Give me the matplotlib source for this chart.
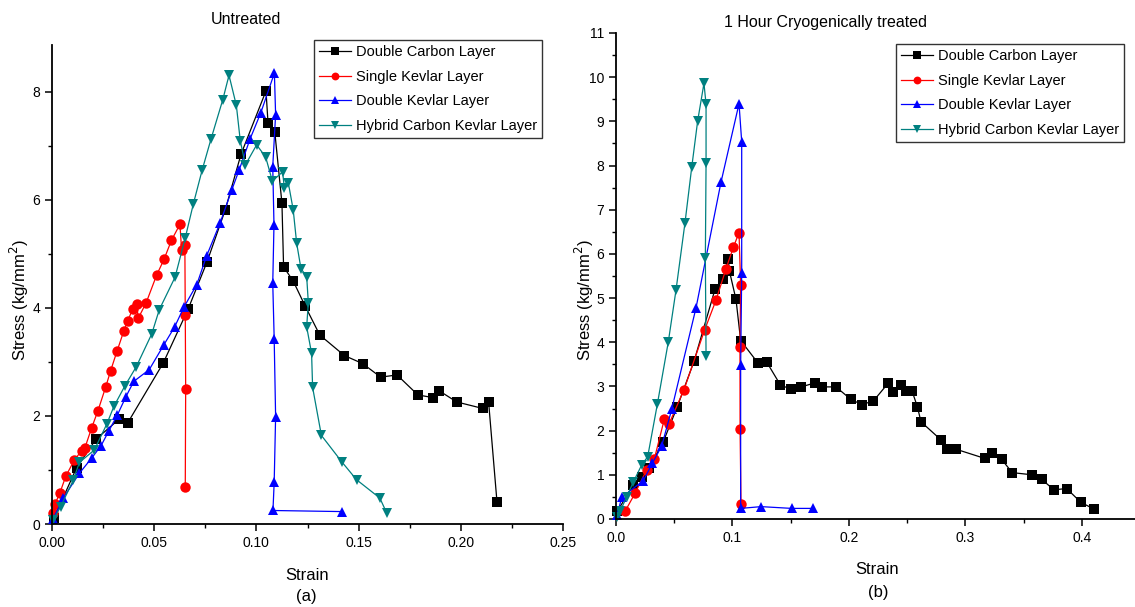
import numpy as np
import matplotlib
matplotlib.use("Agg")
import matplotlib.pyplot as plt
from matplotlib.ticker import MultipleLocator, FormatStrFormatter

plt.rcParams['font.family'] = ['Liberation Sans', 'DejaVu Sans']

# ── Dati (a) non trattato ────────────────────────────────────────────────────
a_dcl_x = [0.001, 0.012, 0.0215, 0.0328, 0.037, 0.0544, 0.0666, 0.0758, 0.0847, 0.0925,
           0.1047, 0.1057, 0.109, 0.1125, 0.1133, 0.118, 0.1238, 0.131, 0.143, 0.152,
           0.1608, 0.1688, 0.179, 0.1865, 0.1893, 0.198, 0.2107, 0.2136, 0.2177]
a_dcl_y = [0.11, 1.04, 1.57, 1.94, 1.87, 2.98, 3.98, 4.85, 5.81, 6.85,
           8.02, 7.42, 7.26, 5.94, 4.76, 4.5, 4.04, 3.5, 3.12, 2.97,
           2.72, 2.76, 2.39, 2.34, 2.47, 2.26, 2.14, 2.26, 0.41]

a_skl_x = [0.0005, 0.0015, 0.0039, 0.0068, 0.0109, 0.0145, 0.0161, 0.0194, 0.0225, 0.0263,
           0.0287, 0.0318, 0.0351, 0.037, 0.0395, 0.0414, 0.0422, 0.0461, 0.0512, 0.0548,
           0.0584, 0.0626, 0.0634, 0.065, 0.0652, 0.0654, 0.0652]
a_skl_y = [0.2, 0.37, 0.58, 0.89, 1.18, 1.36, 1.41, 1.78, 2.1, 2.54,
           2.84, 3.2, 3.57, 3.76, 3.98, 4.07, 3.81, 4.1, 4.61, 4.9,
           5.25, 5.55, 5.07, 5.16, 3.87, 2.5, 0.69]

a_dkl_x = [0.0005, 0.0055, 0.0134, 0.0194, 0.024, 0.0279, 0.032, 0.0362, 0.04, 0.0476,
           0.0546, 0.06, 0.0646, 0.0708, 0.0757, 0.0823, 0.0879, 0.0916, 0.0969, 0.1022,
           0.1088, 0.1094, 0.108, 0.1086, 0.108, 0.1087, 0.1094, 0.1087, 0.1081, 0.1417]
a_dkl_y = [0.09, 0.48, 0.94, 1.22, 1.45, 1.73, 2.02, 2.36, 2.64, 2.86,
           3.31, 3.65, 4.02, 4.43, 4.97, 5.58, 6.18, 6.56, 7.13, 7.62,
           8.35, 7.58, 6.62, 5.54, 4.46, 3.43, 1.99, 0.77, 0.25, 0.23]

a_hyb_x = [0.0005, 0.0042, 0.0104, 0.0134, 0.0207, 0.0268, 0.0303, 0.0357, 0.0412, 0.0488,
           0.0525, 0.0602, 0.0652, 0.0691, 0.0735, 0.0778, 0.0835, 0.0866, 0.0902, 0.0921,
           0.0946, 0.1001, 0.1045, 0.1078, 0.1128, 0.1137, 0.1156, 0.118, 0.1197, 0.1218,
           0.1246, 0.1254, 0.1246, 0.127, 0.1275, 0.1318, 0.1418, 0.149, 0.1604, 0.1638]
a_hyb_y = [0.07, 0.32, 0.81, 1.14, 1.37, 1.85, 2.18, 2.56, 2.91, 3.52,
           3.97, 4.57, 5.3, 5.92, 6.56, 7.13, 7.85, 8.31, 7.75, 7.1,
           6.65, 7.02, 6.8, 6.35, 6.52, 6.22, 6.32, 5.82, 5.2, 4.73,
           4.58, 4.1, 3.65, 3.16, 2.53, 1.64, 1.15, 0.82, 0.48, 0.2]

# ── Dati (b) 1 ora criogenico ────────────────────────────────────────────────
b_dcl_x = [0.001, 0.0149, 0.022, 0.0283, 0.0406, 0.0526, 0.067, 0.085, 0.0916, 0.0964,
           0.0973, 0.103, 0.107, 0.1222, 0.1294, 0.1412, 0.1502, 0.1588, 0.1708, 0.1766,
           0.1888, 0.2015, 0.2109, 0.2209, 0.2335, 0.2375, 0.2449, 0.2487, 0.2541, 0.2587,
           0.2618, 0.279, 0.2844, 0.2918, 0.3167, 0.3225, 0.331, 0.3401, 0.3573, 0.3653,
           0.3759, 0.3868, 0.3989, 0.4106]
b_dcl_y = [0.17, 0.77, 0.96, 1.15, 1.75, 2.54, 3.57, 5.2, 5.44, 5.88,
           5.62, 4.97, 4.04, 3.52, 3.55, 3.03, 2.94, 2.99, 3.08, 2.99,
           2.99, 2.71, 2.59, 2.67, 3.07, 2.87, 3.03, 2.9, 2.9, 2.54,
           2.2, 1.79, 1.58, 1.58, 1.37, 1.49, 1.35, 1.05, 1.0, 0.9,
           0.66, 0.69, 0.38, 0.22]

b_skl_x = [0.0077, 0.0163, 0.0263, 0.0329, 0.0415, 0.0455, 0.0584, 0.0761, 0.0858, 0.0944,
           0.1007, 0.1056, 0.107, 0.1064, 0.1065, 0.1073]
b_skl_y = [0.17, 0.58, 1.11, 1.36, 2.26, 2.15, 2.93, 4.28, 4.95, 5.66,
           6.15, 6.48, 5.29, 3.9, 2.04, 0.34]

b_dkl_x = [0.001, 0.0049, 0.0235, 0.0312, 0.0392, 0.0478, 0.0687, 0.0901, 0.1056, 0.1079,
           0.1079, 0.107, 0.107, 0.1245, 0.1508, 0.1688]
b_dkl_y = [0.09, 0.49, 0.87, 1.26, 1.65, 2.48, 4.78, 7.62, 9.4, 8.54,
           5.57, 3.48, 0.24, 0.28, 0.24, 0.24]

b_hyb_x = [0.001, 0.0034, 0.0092, 0.0149, 0.022, 0.0272, 0.0355, 0.0449, 0.0515, 0.0592,
           0.065, 0.0701, 0.0755, 0.0773, 0.0773, 0.0767, 0.0773]
b_hyb_y = [0.05, 0.17, 0.5, 0.84, 1.22, 1.41, 2.6, 4.01, 5.18, 6.7,
           7.96, 9.01, 9.86, 9.39, 8.05, 5.9, 3.7]

labels = ["Double Carbon Layer", "Single Kevlar Layer", "Double Kevlar Layer",
          "Hybrid Carbon Kevlar Layer"]
colors = ["black", "#ff0000", "#0000ff", "#008080"]
markers = ["s", "o", "^", "v"]

fig = plt.figure(figsize=(11.35, 6.07), dpi=100)
W, H = 1135, 607

def px_axes(l, t, r, b):
    return fig.add_axes([l / W, 1 - b / H, (r - l) / W, (b - t) / H])

axA = px_axes(52, 45, 563, 524)
axB = px_axes(616, 33, 1135, 519)

seriesA = [(a_dcl_x, a_dcl_y), (a_skl_x, a_skl_y), (a_dkl_x, a_dkl_y), (a_hyb_x, a_hyb_y)]
seriesB = [(b_dcl_x, b_dcl_y), (b_skl_x, b_skl_y), (b_dkl_x, b_dkl_y), (b_hyb_x, b_hyb_y)]

for ax, series in [(axA, seriesA), (axB, seriesB)]:
    for (x, y), lab, c, m in zip(series, labels, colors, markers):
        ax.plot(x, y, color=c, marker=m, markersize=7.5, linewidth=0.9,
                markeredgewidth=0, label=lab, clip_on=False)
    for s in ["top", "right"]:
        ax.spines[s].set_visible(False)
    for s in ["left", "bottom"]:
        ax.spines[s].set_linewidth(1.3)
    ax.tick_params(which="major", direction="out", length=5, width=1.1, labelsize=10)
    ax.tick_params(which="minor", direction="out", length=3, width=1.0)

axA.set_xlim(0, 0.25)
axA.set_ylim(0, 8.87)
axA.xaxis.set_major_locator(MultipleLocator(0.05))
axA.xaxis.set_minor_locator(MultipleLocator(0.025))
axA.xaxis.set_major_formatter(FormatStrFormatter("%.2f"))
axA.yaxis.set_major_locator(MultipleLocator(2))
axA.yaxis.set_minor_locator(MultipleLocator(1))

axB.set_xlim(0, 0.4455)
axB.set_ylim(0, 11)
axB.xaxis.set_major_locator(MultipleLocator(0.1))
axB.xaxis.set_minor_locator(MultipleLocator(0.05))
axB.xaxis.set_major_formatter(FormatStrFormatter("%.1f"))
axB.yaxis.set_major_locator(MultipleLocator(1))
axB.yaxis.set_minor_locator(MultipleLocator(0.5))

# titoli ed etichette
fig.text(246 / W, 1 - 19 / H, "Untreated", ha="center", va="center", fontsize=11.5)
fig.text(826 / W, 1 - 22 / H, "1 Hour Cryogenically treated", ha="center", va="center", fontsize=11.5)
fig.text(307 / W, 1 - 576 / H, "Strain", ha="center", va="center", fontsize=12)
fig.text(306 / W, 1 - 597 / H, "(a)", ha="center", va="center", fontsize=12)
fig.text(877 / W, 1 - 569 / H, "Strain", ha="center", va="center", fontsize=12)
fig.text(878 / W, 1 - 593 / H, "(b)", ha="center", va="center", fontsize=12)
fig.text(19 / W, 1 - 300 / H, "Stress (kg/mm$^2$)", rotation=90, ha="center", va="center", fontsize=12)
fig.text(584 / W, 1 - 300 / H, "Stress (kg/mm$^2$)", rotation=90, ha="center", va="center", fontsize=12)

for ax, (lx, ly) in [(axA, (314, 40)), (axB, (896, 44))]:
    leg = ax.legend(loc="upper left", bbox_to_anchor=(lx / W, 1 - ly / H),
                    bbox_transform=fig.transFigure, fontsize=10.5, frameon=True,
                    fancybox=False, handlelength=2.2, handletextpad=0.3,
                    borderpad=0.35, labelspacing=0.72, borderaxespad=0, markerscale=0.75)
    leg.get_frame().set_edgecolor("black")
    leg.get_frame().set_linewidth(1.0)

fig.savefig("out.png", dpi=100)
